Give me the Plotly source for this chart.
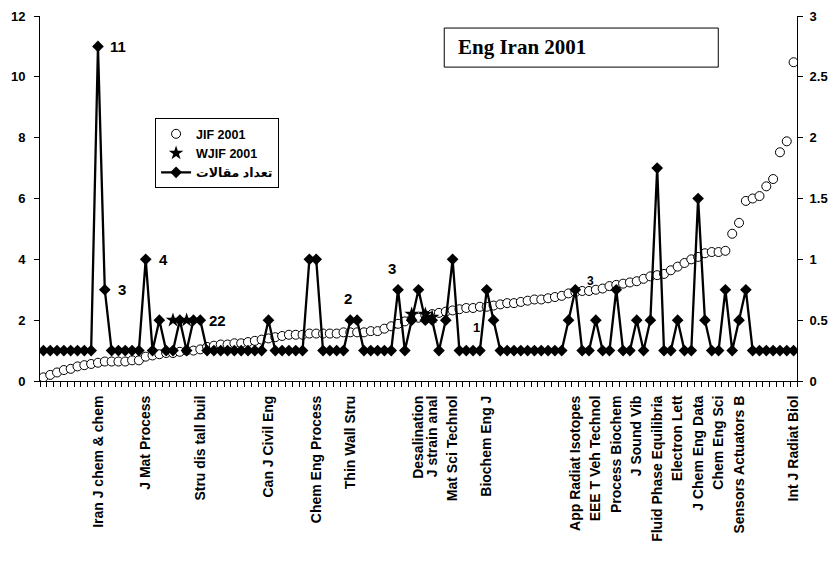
import plotly.graph_objects as go

# ---------------- data ----------------
n_journals = 111
journal_idx = list(range(n_journals))

label_idx = [8, 15, 23, 33, 40, 45, 55, 57, 60, 65, 78, 81, 84, 87, 90, 93, 96, 99, 102, 110]
label_text = ["Iran J chem & chem", "J Mat Process", "Stru dis tall buil", "Can J Civil Eng",
              "Chem Eng Process", "Thin Wall Stru", "Desalination", "J strain anal",
              "Mat Sci Technol", "Biochem Eng J", "App Radiat Isotopes", "EEE T Veh Technol",
              "Process Biochem", "J Sound Vib", "Fluid Phase Equilibria", "Electron Lett",
              "J Chem Eng Data", "Chem Eng Sci", "Sensors Actuators B", "Int J Radiat Biol"]

# number of articles (left axis)
articles = [1, 1, 1, 1, 1, 1, 1, 1, 11, 3,
            1, 1, 1, 1, 1, 4, 1, 2, 1, 1,
            2, 1, 2, 2, 1, 1, 1, 1, 1, 1,
            1, 1, 1, 2, 1, 1, 1, 1, 1, 4,
            4, 1, 1, 1, 1, 2, 2, 1, 1, 1,
            1, 1, 3, 1, 2, 3, 2, 2, 1, 2,
            4, 1, 1, 1, 1, 3, 2, 1, 1, 1,
            1, 1, 1, 1, 1, 1, 1, 2, 3, 1,
            1, 2, 1, 1, 3, 1, 1, 2, 1, 2,
            7, 1, 1, 2, 1, 1, 6, 2, 1, 1,
            3, 1, 2, 3, 1, 1, 1, 1, 1, 1,
            1]

# JIF 2001 (right axis)
jif_2001 = [0.03, 0.05, 0.07, 0.09, 0.10, 0.12, 0.13, 0.14, 0.15, 0.16,
            0.16, 0.16, 0.16, 0.17, 0.17, 0.20, 0.21, 0.22, 0.23, 0.23,
            0.24, 0.25, 0.25, 0.26, 0.28, 0.29, 0.30, 0.30, 0.31, 0.31,
            0.32, 0.33, 0.34, 0.35, 0.36, 0.37, 0.38, 0.38, 0.38, 0.39,
            0.39, 0.39, 0.39, 0.39, 0.40, 0.40, 0.40, 0.40, 0.41, 0.41,
            0.43, 0.45, 0.47, 0.49, 0.51, 0.52, 0.54, 0.55, 0.56, 0.57,
            0.58, 0.59, 0.60, 0.60, 0.61, 0.61, 0.62, 0.63, 0.64, 0.64,
            0.65, 0.66, 0.67, 0.67, 0.68, 0.69, 0.70, 0.72, 0.73, 0.74,
            0.74, 0.75, 0.76, 0.78, 0.79, 0.80, 0.81, 0.82, 0.84, 0.86,
            0.87, 0.88, 0.91, 0.94, 0.97, 1.00, 1.02, 1.05, 1.06, 1.06,
            1.07, 1.21, 1.30, 1.48, 1.50, 1.52, 1.60, 1.66, 1.88, 1.97,
            2.62]

# WJIF 2001 (left axis, few visible points)
wjif_idx = [19, 21, 54, 56, 57]
wjif_2001 = [2.0, 2.0, 2.2, 2.2, 2.1]

# data labels
dl_text = ["11", "3", "4", "22", "2", "3", "3", "1"]
dl_idx = [8, 9, 15, 23, 45, 52, 78, 64]
dl_val = [11, 3, 4, 2, 2.7, 3.7, 3.3, 1.75]

assert len(articles) == n_journals and len(jif_2001) == n_journals

FONT = "Liberation Sans, Arial, DejaVu Sans, sans-serif"

fig = go.Figure()

fig.add_trace(go.Scatter(
    x=journal_idx, y=jif_2001, name="JIF 2001", mode="markers", yaxis="y",
    marker=dict(symbol="circle", size=9, color="white", line=dict(color="black", width=1)),
    legendrank=1))

fig.add_trace(go.Scatter(
    x=journal_idx, y=articles, name="تعداد مقالات", mode="lines+markers", yaxis="y2",
    line=dict(color="black", width=2.3),
    marker=dict(symbol="diamond", size=9, color="black"),
    legendrank=3))

fig.add_trace(go.Scatter(
    x=wjif_idx, y=wjif_2001, name="WJIF 2001", mode="markers", yaxis="y2",
    marker=dict(symbol="star", size=11, color="black"),
    legendrank=2))

annotations = []
shifts = [10, 11, 11, 7, -2, -6, 10, -3]
anchors = ["left", "left", "left", "left", "center", "center", "left", "center"]
sizes = [15, 15, 15, 15, 15, 15, 12, 13]
for t, i, v, s, a, fs in zip(dl_text, dl_idx, dl_val, shifts, anchors, sizes):
    annotations.append(dict(x=i, y=v, xref="x", yref="y2", text=t, showarrow=False,
                            xanchor=a, yanchor="middle", xshift=s,
                            font=dict(family=FONT, size=fs, color="black", weight="bold")))

annotations.append(dict(x=0.549, y=0.915, xref="paper", yref="paper", text="Eng Iran 2001",
                        showarrow=False, xanchor="left", yanchor="middle",
                        font=dict(family="Liberation Serif, Times New Roman, serif", size=21,
                                  color="black", weight="bold")))

fig.update_layout(
    width=835, height=566,
    margin=dict(l=40, r=38, t=16, b=185),
    paper_bgcolor="white", plot_bgcolor="white",
    showlegend=True,
    legend=dict(x=0.152, y=0.72, xanchor="left", yanchor="top",
                bordercolor="black", borderwidth=1, bgcolor="white",
                font=dict(family=FONT, size=12.5, color="black", weight="bold"),
                tracegroupgap=0, itemwidth=30),
    annotations=annotations,
    shapes=[dict(type="rect", xref="paper", yref="paper", x0=0.534, x1=0.896, y0=0.86, y1=0.967,
                 line=dict(color="black", width=1), fillcolor="rgba(0,0,0,0)")],
    xaxis=dict(range=[-0.5, n_journals - 0.5], showgrid=False, zeroline=False,
               showline=True, linecolor="black", linewidth=1, automargin=False,
               tickmode="array", tickvals=label_idx, ticktext=label_text, tickangle=-90,
               ticks="", ticklabelstandoff=8,
               tickfont=dict(family=FONT, size=14, color="black", weight="bold"),
               minor=dict(ticks="outside", tickmode="linear", tick0=-0.5, dtick=1,
                          ticklen=5, tickcolor="black", showgrid=False)),
    xaxis2=dict(range=[-0.5, n_journals - 0.5], overlaying="x", anchor="y", side="bottom",
                showgrid=False, zeroline=False, showline=False, showticklabels=False,
                automargin=False, tickmode="linear", tick0=-0.5, dtick=1,
                ticks="inside", ticklen=4, tickcolor="black"),
    yaxis=dict(range=[0, 3], side="right", dtick=0.5, showgrid=False, zeroline=False,
               showline=True, linecolor="black", linewidth=1, automargin=False,
               ticks="outside", ticklen=5, tickcolor="black", ticklabelstandoff=4,
               tickfont=dict(family=FONT, size=13, color="black", weight="bold")),
    yaxis2=dict(range=[0, 12], side="left", overlaying="y", dtick=2, showgrid=False,
                zeroline=False, showline=True, linecolor="black", linewidth=1, automargin=False,
                ticks="outside", ticklen=5, tickcolor="black", ticklabelstandoff=6,
                tickfont=dict(family=FONT, size=13, color="black", weight="bold")),
)

fig.write_html("out.html", config={"displayModeBar": False},
               post_script="document.body.style.margin='0px';document.body.style.overflow='hidden';")
